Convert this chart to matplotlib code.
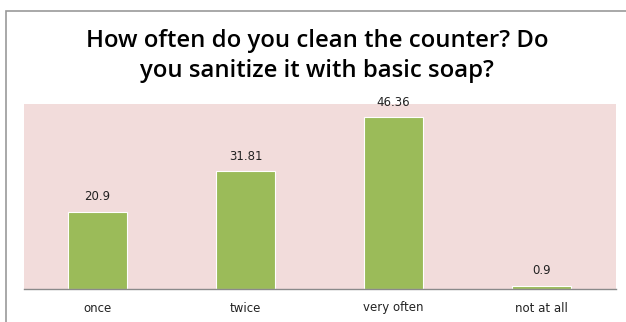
import matplotlib.pyplot as plt
from matplotlib.patches import Rectangle

categories = ["once", "twice", "very often", "not at all"]
values = [20.9, 31.81, 46.36, 0.9]
value_labels = ["20.9", "31.81", "46.36", "0.9"]
title_lines = ["How often do you clean the counter? Do", "you sanitize it with basic soap?"]

W, H = 626, 322
fig = plt.figure(figsize=(W / 100, H / 100), dpi=100)
fig.patch.set_facecolor("white")

# chart frame: only the left and top edges are visible
fig.add_artist(Rectangle((6 / W, -0.1), 1.1, (H - 11) / H + 0.1, transform=fig.transFigure,
                         fill=False, edgecolor="#999999", linewidth=1.2))

left, right, top, bottom = 23.5, 615.5, 104, 289
ax = fig.add_axes([left / W, 1 - bottom / H, (right - left) / W, (bottom - top) / H])
ax.set_facecolor("#F2DCDB")

x = range(len(categories))
ax.bar(x, values, width=0.395, color="#9BBB59", edgecolor="white", linewidth=0.8, zorder=2)
for xi, label, v in zip(x, value_labels, values):
    ax.text(xi, v + 2.3, label, ha="center", va="bottom", fontsize=8.5,
            family="DejaVu Sans", color="#222222")

ax.set_xlim(-0.5, len(categories) - 0.5)
ax.set_ylim(0, 50)
ax.set_yticks([])
ax.set_xticks(list(x))
ax.set_xticklabels(categories, fontsize=8.5, family="DejaVu Sans", color="#222222")
ax.tick_params(axis="x", length=0, pad=9)
for side in ["top", "right", "left"]:
    ax.spines[side].set_visible(False)
ax.spines["bottom"].set_color("#8a8a8a")
ax.spines["bottom"].set_linewidth(1.0)

for line, baseline in zip(title_lines, [47, 77]):
    fig.text(317 / W, 1 - baseline / H, line, ha="center", va="baseline", fontsize=17.2,
             family="Open Sans", fontweight="semibold", color="black")

fig.savefig("out.png", dpi=100)
